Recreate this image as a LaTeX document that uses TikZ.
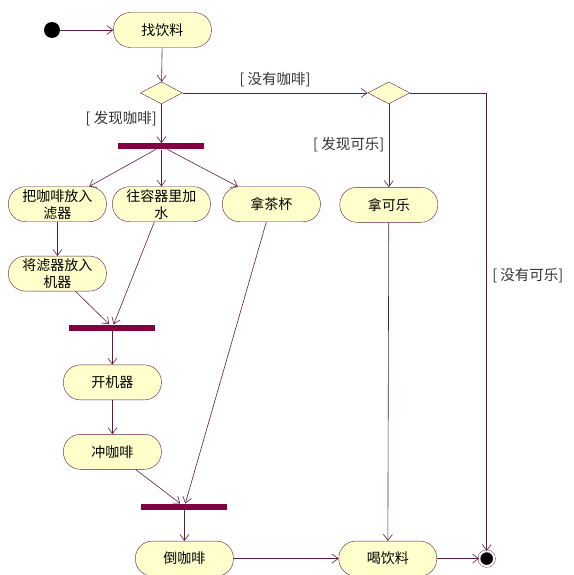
\documentclass[tikz,border=0pt]{standalone}
\usepackage{fontspec}
\setmainfont{Noto Sans CJK SC}
\usetikzlibrary{shapes.geometric, arrows.meta, positioning}
\definecolor{umlfill}{HTML}{FFFFCC}
\definecolor{umlline}{HTML}{5E1A45}
\definecolor{umlbar}{HTML}{800040}
\tikzstyle{activity} = [rectangle, rounded corners=17pt, minimum width=98pt, minimum height=35pt, inner sep=1pt, text centered, align=center, draw=umlline, fill=umlfill, font=\fontsize{14}{17}\selectfont]
\tikzstyle{decision} = [diamond, minimum width=42pt, minimum height=22pt, inner sep=0pt, draw=umlline, fill=umlfill]
\tikzstyle{syncbar} = [rectangle, minimum width=86pt, minimum height=6pt, inner sep=0pt, fill=umlbar]
\tikzstyle{guard} = [font=\fontsize{14.5}{16}\selectfont, text=black!80]
\tikzstyle{arrow} = [draw=umlline, semithick, -{Straight Barb[length=6pt, width=9pt]}]

\begin{document}
\begin{tikzpicture}[x=1pt, y=1pt]
\useasboundingbox (0,0) rectangle (573,-575);

% Start and first action
\node (start) [circle, fill=black, minimum size=16pt, inner sep=0pt] at (52,-30) {};
\node (find) [activity, right=53pt of start] {找饮料};

% Decisions
\node (dec1) [decision, below=34pt of find, xshift=-1pt] {};
\node (dec2) [decision, right=185pt of dec1] {};

% Fork
\node (fork) [syncbar, below=39pt of dec1] {};
\node (coffee) [activity, below=37pt of fork, xshift=-104pt] {把咖啡放入\\滤器};
\node (water) [activity, below=37pt of fork] {往容器里加\\水};
\node (cup) [activity, below=37pt of fork, xshift=110pt] {拿茶杯};
\node (cola) [activity, below=83pt of dec2] {拿可乐};

% Coffee branch
\node (filter) [activity, below=34pt of coffee] {将滤器放入\\机器};
\node (join1) [syncbar, below=33pt of filter, xshift=55pt] {};
\node (machine) [activity, below=34pt of join1] {开机器};
\node (brew) [activity, below=34pt of machine] {冲咖啡};
\node (join2) [syncbar, below=34pt of brew, xshift=72pt] {};
\node (pour) [activity, below=31pt of join2] {倒咖啡};

% End
\node (drink) [activity, right=105pt of pour] {喝饮料};
\node (final) [circle, fill=black, draw=umlline, double=white, double distance=2pt, minimum size=15pt, inner sep=0pt, right=42pt of drink] {};

% Connections
\draw [arrow] (start) -- (find);
\draw [arrow] (find) -- (dec1);
\draw [arrow] (dec1) -- node[guard, above=2pt, pos=0.5] {[ 没有咖啡]} (dec2);
\draw [arrow] (dec1) -- node[guard, left, pos=0.38, xshift=-1pt] {[ 发现咖啡]} (fork);
\draw [arrow] (dec2) -- node[guard, left, pos=0.49, xshift=-1pt] {[ 发现可乐]} (cola);
\draw [arrow] (dec2.east) -| node[guard, right, pos=0.7, xshift=2pt] {[ 没有可乐]} (final.north);
\draw [arrow] (fork) -- (coffee);
\draw [arrow] (fork) -- (water);
\draw [arrow] (fork) -- (cup);
\draw [arrow] (coffee) -- (filter);
\draw [arrow] (filter) -- (join1);
\draw [arrow] (water) -- (join1);
\draw [arrow] (join1) -- (machine);
\draw [arrow] (machine) -- (brew);
\draw [arrow] (brew) -- (join2);
\draw [arrow] (cup) -- (join2);
\draw [arrow] (join2) -- (pour);
\draw [arrow] (pour) -- (drink);
\draw [arrow] (cola) -- (drink);
\draw [arrow] (drink) -- (final);

\end{tikzpicture}
\end{document}
